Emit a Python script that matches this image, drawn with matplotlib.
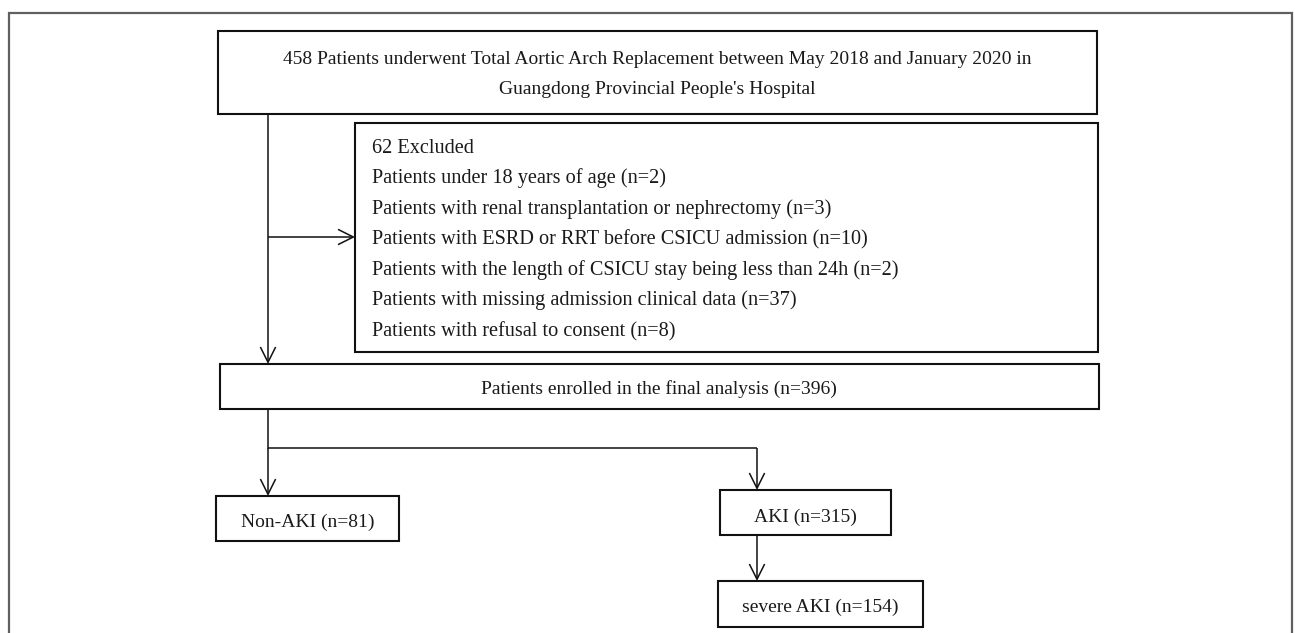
import matplotlib
matplotlib.use("Agg")
import matplotlib.pyplot as plt
from matplotlib.patches import Rectangle, FancyArrowPatch, ArrowStyle

# ---- content ----
top_lines = [
    "458 Patients underwent Total Aortic Arch Replacement between May 2018 and January 2020 in",
    "Guangdong Provincial People's Hospital",
]
excluded_title = "62 Excluded"
excluded_reasons = [
    "Patients under 18 years of age (n=2)",
    "Patients with renal transplantation or nephrectomy (n=3)",
    "Patients with ESRD or RRT before CSICU admission (n=10)",
    "Patients with the length of CSICU stay being less than 24h (n=2)",
    "Patients with missing admission clinical data (n=37)",
    "Patients with refusal to consent (n=8)",
]
final_label = "Patients enrolled in the final analysis (n=396)"
non_aki_label = "Non-AKI (n=81)"
aki_label = "AKI (n=315)"
severe_label = "severe AKI (n=154)"

# ---- layout (pixels) ----
W, H = 1295, 633
FONT = "Liberation Serif"
FS = 14.0
FS_EX = 14.6
BOX_LW = 1.5
LINE_LW = 1.1

fig = plt.figure(figsize=(W / 100, H / 100), dpi=100)
ax = fig.add_axes([0, 0, 1, 1])
ax.set_xlim(0, W)
ax.set_ylim(H, 0)
ax.axis("off")

# outer frame (open at bottom)
ax.plot([9, 9, 1292, 1292], [H + 5, 13, 13, H + 5], color="#606060", lw=1.6,
        solid_joinstyle="miter", clip_on=False)

def box(x0, y0, x1, y1):
    ax.add_patch(Rectangle((x0, y0), x1 - x0, y1 - y0, fill=True, facecolor="white",
                           edgecolor="#111111", lw=BOX_LW, joinstyle="miter", zorder=3))

def txt(x, y, s, ha="center", fs=FS):
    ax.text(x, y, s, ha=ha, va="baseline", fontsize=fs, family=FONT, color="#1a1a1a", zorder=4)

def line(xs, ys):
    ax.plot(xs, ys, color="#111111", lw=LINE_LW, solid_joinstyle="miter",
            solid_capstyle="butt", zorder=2)

def arrow(x0, y0, x1, y1):
    style = ArrowStyle("->", head_length=11, head_width=5.5)
    ax.add_patch(FancyArrowPatch((x0, y0), (x1, y1), arrowstyle=style, mutation_scale=1,
                                 color="#111111", lw=LINE_LW, shrinkA=0, shrinkB=0,
                                 capstyle="butt", zorder=2))

# top box
box(218, 31, 1097, 114)
txt(657, 64, top_lines[0])
txt(657, 94, top_lines[1])

# exclusion box
box(355, 123, 1098, 352)
ex_lines = [excluded_title] + excluded_reasons
for i, s in enumerate(ex_lines):
    txt(372, 153 + i * 30.5, s, ha="left", fs=FS_EX)

# main vertical arrow and exclusion arrow
arrow(268, 114, 268, 364)
arrow(268, 237, 355, 237)

# final box
box(220, 364, 1099, 409)
txt(659, 394, final_label)

# branch
line([757, 268, 268], [448, 448, 409])
arrow(268, 448, 268, 496)
arrow(757, 448, 757, 490)

# Non-AKI
box(216, 496, 399, 541)
txt(307.5, 527, non_aki_label)

# AKI
box(720, 490, 891, 535)
txt(805.5, 522, aki_label)

# severe AKI
arrow(757, 535, 757, 581)
box(718, 581, 923, 627)
txt(820.5, 612, severe_label)

fig.savefig("out.png", dpi=100, facecolor="white")
